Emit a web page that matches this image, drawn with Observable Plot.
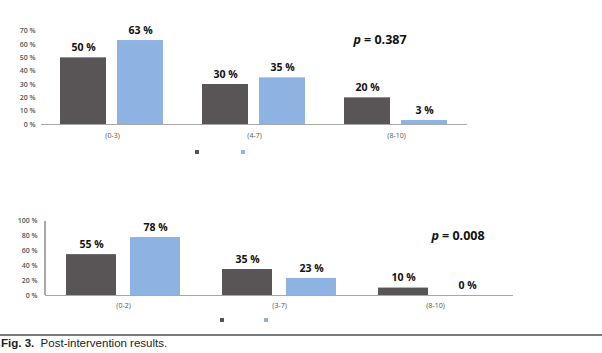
<!DOCTYPE html>
<html>
<head>
<meta charset="utf-8">
<script src="https://cdn.jsdelivr.net/npm/d3@7"></script>
<script src="https://cdn.jsdelivr.net/npm/@observablehq/plot@0.6"></script>
<style>
  html, body { margin: 0; padding: 0; background: #fff; }
  #root { position: relative; width: 602px; height: 353px; overflow: hidden; }
  .pval { position: absolute; font-family: "Open Sans", sans-serif; font-weight: bold; font-size: 12.5px; color: #111; white-space: nowrap; transform: translate(-50%, -50%); }
  .sw { position: absolute; width: 4px; height: 4px; }
  .vaxis { position: absolute; width: 1.2px; background: #a8a8a8; }
  #rule { position: absolute; left: 0; top: 334px; width: 602px; height: 2px; background: #7a7a7a; }
  #caption { position: absolute; left: 1px; top: 337px; font-family: "Liberation Sans", sans-serif; font-size: 11.5px; color: #222; white-space: nowrap; }
</style>
</head>
<body>
<div id="root"></div>
<script>
// ---- data ----
const seriesKeys = ["s1", "s2"];
const seriesColors = ["#595456", "#8db3e2"];

const categoriesTop = ["(0-3)", "(4-7)", "(8-10)"];
const valuesTopS1 = [50, 30, 20];
const valuesTopS2 = [63, 35, 3];
const yTicksTop = [0, 10, 20, 30, 40, 50, 60, 70];
const pTop = "0.387";

const categoriesBottom = ["(0-2)", "(3-7)", "(8-10)"];
const valuesBottomS1 = [55, 35, 10];
const valuesBottomS2 = [78, 23, 0];
const yTicksBottom = [0, 20, 40, 60, 80, 100];
const pBottom = "0.008";

const captionBold = "Fig. 3.";
const captionText = "Post-intervention results.";

// ---- build ----
function rows(cats, a, b) {
  const out = [];
  cats.forEach((c, i) => {
    out.push({cat: c, series: seriesKeys[0], value: a[i]});
    out.push({cat: c, series: seriesKeys[1], value: b[i]});
  });
  return out;
}

function chart(o) {
  const data = rows(o.cats, o.a, o.b);
  return Plot.plot({
    width: 602,
    height: o.height,
    marginLeft: o.ml,
    marginRight: o.mr,
    marginTop: o.mt,
    marginBottom: o.mb,
    style: {fontFamily: "Open Sans, sans-serif", fontSize: "7px", background: "transparent", color: "#555"},
    fx: {domain: o.cats, padding: 0, label: null},
    x: {domain: seriesKeys, paddingInner: o.pi, paddingOuter: o.po, axis: null},
    y: {domain: [0, o.ymax], axis: null},
    color: {domain: seriesKeys, range: seriesColors},
    marks: [
      Plot.barY(data, {fx: "cat", x: "series", y: "value", fill: "series"}),
      Plot.ruleY([0], {stroke: "#a8a8a8", strokeWidth: 1.2}),
      Plot.axisFx({anchor: "bottom", tickSize: 0, tickPadding: o.fxPad, label: null, fill: "#555"}),
      Plot.axisY({ticks: o.ticks, tickFormat: d => d + " %", tickSize: 0, tickPadding: o.yPad, label: null,
        fill: "#555", fontWeight: "600"}),
      Plot.text(data, {fx: "cat", x: "series", y: "value", text: d => d.value + " %", dy: -10, fontSize: 10.5, fontWeight: "bold", fill: "#111"})
    ]
  });
}

const root = document.getElementById("root");

const chartTop = chart({cats: categoriesTop, a: valuesTopS1, b: valuesTopS2, ymax: 70, ticks: yTicksTop,
  height: 145, ml: 40, mr: 135, mt: 30.7, mb: 21, pi: 0.19, po: 0.32, fxPad: 9, yPad: 6});
chartTop.style.position = "absolute"; chartTop.style.left = "0px"; chartTop.style.top = "0px";
root.appendChild(chartTop);

const bottomOpts = {cats: categoriesBottom, a: valuesBottomS1, b: valuesBottomS2, ymax: 100, ticks: yTicksBottom,
  height: 125, ml: 45, mr: 89, mt: 30.7, mb: 20, pi: 0.215, po: 0.31, fxPad: 7.5, yPad: 8};
const chartBottom = chart(bottomOpts);
const bottomTop = 190;
chartBottom.style.position = "absolute"; chartBottom.style.left = "0px"; chartBottom.style.top = bottomTop + "px";
root.appendChild(chartBottom);

// vertical axis line for the lower chart, placed from Plot's own y scale
{
  const yr = chartBottom.scale("y").range; // [bottom, top]
  const v = document.createElement("div");
  v.className = "vaxis";
  v.style.left = (bottomOpts.ml - 0.6) + "px";
  v.style.top = (bottomTop + Math.min(...yr)) + "px";
  v.style.height = Math.abs(yr[0] - yr[1]) + "px";
  root.appendChild(v);
}

function addP(val, x, y) {
  const d = document.createElement("div");
  d.className = "pval";
  d.style.left = x + "px"; d.style.top = y + "px";
  d.innerHTML = "<i>p</i> = " + val;
  root.appendChild(d);
}
addP(pTop, 380, 39);
addP(pBottom, 458, 235);

function addSwatches(xs, y) {
  xs.forEach((x, i) => {
    const s = document.createElement("div");
    s.className = "sw";
    s.style.left = (x - 2) + "px"; s.style.top = (y - 2) + "px";
    s.style.background = seriesColors[i];
    root.appendChild(s);
  });
}
addSwatches([197, 243], 152);
addSwatches([222, 266], 320);

const rule = document.createElement("div"); rule.id = "rule"; root.appendChild(rule);
const cap = document.createElement("div"); cap.id = "caption";
cap.innerHTML = "<b>" + captionBold + "</b>&nbsp; " + captionText;
root.appendChild(cap);
</script>
</body>
</html>
